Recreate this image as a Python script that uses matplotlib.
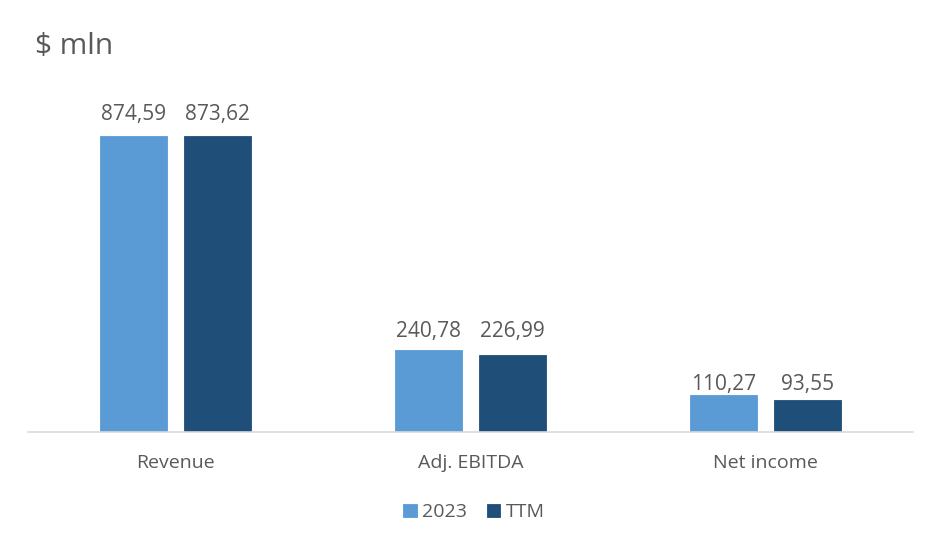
import numpy as np
import matplotlib
matplotlib.use("Agg")
import matplotlib.pyplot as plt

plt.rcParams['font.family'] = ['Open Sans', 'DejaVu Sans']

categories = ['Revenue', 'Adj. EBITDA', 'Net income']
series_names = ['2023', 'TTM']
values_2023 = [874.59, 240.78, 110.27]
values_ttm = [873.62, 226.99, 93.55]
colors = ['#5B9BD5', '#1F4E79']
text_color = '#595959'
# gap (points) between the taller bar of each group and its labels
label_gap = [11.5, 10, 3]

fig = plt.figure(figsize=(9.41, 5.49), dpi=100)
W, H = 941, 549
ax = fig.add_axes([27.5 / W, 1 - 432 / H, (913.5 - 27.5) / W, (432 - 100) / H])

x = np.arange(len(categories))
width = 0.227
offset = (width + 0.058) / 2

bars = []
for vals, off, col, name in zip([values_2023, values_ttm], [-offset, offset], colors, series_names):
    b = ax.bar(x + off, vals, width, color=col, label=name, edgecolor=col, linewidth=0.6)
    bars.append(b)

group_max = np.maximum(values_2023, values_ttm)
for b, vals in zip(bars, [values_2023, values_ttm]):
    for i, (rect, v) in enumerate(zip(b, vals)):
        ax.annotate(f'{v:.2f}'.replace('.', ','),
                    (rect.get_x() + rect.get_width() / 2, group_max[i]),
                    xytext=(0, label_gap[i]), textcoords='offset points',
                    ha='center', va='baseline', fontsize=15, color=text_color)

ax.set_xlim(-0.5, len(categories) - 0.5)
ax.set_ylim(0, 980)
ax.set_xticks(x)
ax.set_xticklabels(categories, fontsize=14, color=text_color)
ax.tick_params(axis='x', length=0, pad=16)
ax.set_yticks([])
for s in ['top', 'right', 'left']:
    ax.spines[s].set_visible(False)
ax.spines['bottom'].set_color('#D9D9D9')
ax.spines['bottom'].set_linewidth(1.2)

fig.text(35 / W, 1 - 46 / H, '$ mln', fontsize=21.5, color=text_color, ha='left', va='center')

leg = fig.legend(handles=bars, labels=series_names, loc='center', bbox_to_anchor=(474 / W, 1 - 512 / H),
                 ncol=2, frameon=False, fontsize=14, handlelength=0.67, handleheight=0.67,
                 handletextpad=0.3, columnspacing=1.0)
for t in leg.get_texts():
    t.set_color(text_color)

fig.savefig('out.png', dpi=100)
